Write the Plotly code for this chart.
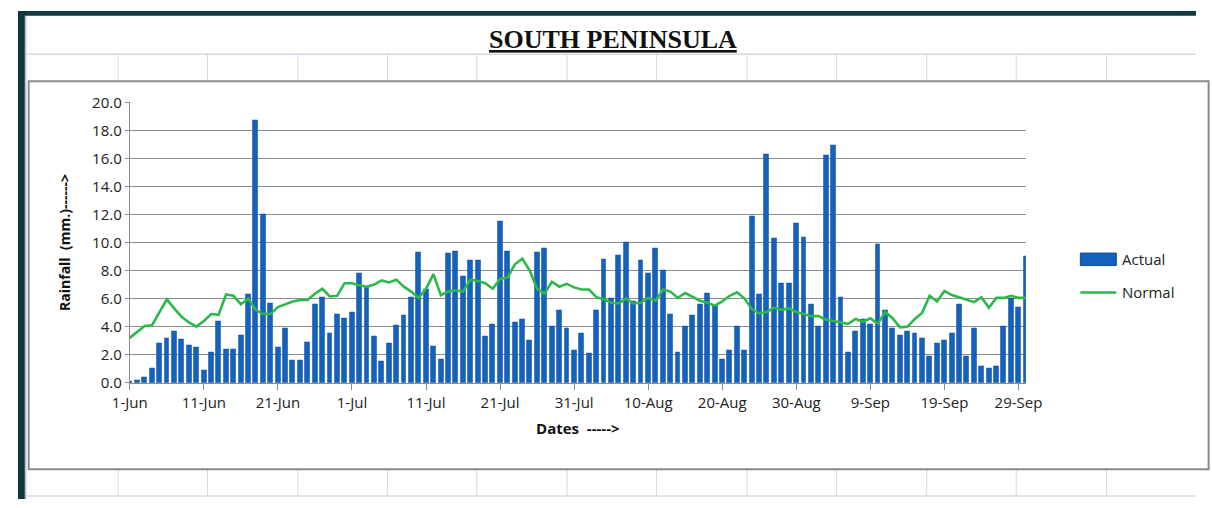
import pandas as pd
import plotly.graph_objects as go

# ---------------- data ----------------
dates = pd.date_range("2013-06-01", "2013-09-30", freq="D")
date_labels = [f"{d.day}-{d.strftime('%b')}" for d in dates]

actual = [
    0.1, 0.2, 0.4, 1.0, 2.8, 3.2, 3.7, 3.1, 2.7, 2.5,
    0.9, 2.2, 4.4, 2.4, 2.4, 3.4, 6.3, 18.7, 12.0, 5.7,
    2.5, 3.9, 1.6, 1.6, 2.9, 5.6, 6.1, 3.5, 4.9, 4.6,
    5.0, 7.8, 6.9, 3.3, 1.5, 2.8, 4.1, 4.8, 6.1, 9.3,
    6.7, 2.6, 1.7, 9.2, 9.4, 7.6, 8.7, 8.7, 3.3, 4.2,
    11.5, 9.4, 4.3, 4.5, 3.0, 9.3, 9.6, 4.0, 5.2, 3.9,
    2.3, 3.5, 2.1, 5.2, 8.8, 6.0, 9.1, 10.0, 5.8, 8.7,
    7.8, 9.6, 8.0, 4.9, 2.2, 4.0, 4.8, 5.6, 6.4, 5.5,
    1.7, 2.3, 4.0, 2.3, 11.9, 6.3, 16.3, 10.3, 7.1, 7.1,
    11.4, 10.4, 5.6, 4.0, 16.2, 16.9, 6.1, 2.2, 3.7, 4.5,
    4.2, 9.9, 5.2, 3.9, 3.4, 3.7, 3.5, 3.2, 1.9, 2.8,
    3.0, 3.5, 5.6, 1.9, 3.9, 1.2, 1.0, 1.2, 4.0, 6.0, 5.4, 9.0,
]

normal = [
    3.2, 3.6, 4.05, 4.1, 5.0, 5.95, 5.3, 4.7, 4.3, 4.0,
    4.4, 4.9, 4.85, 6.3, 6.2, 5.6, 6.0, 5.2, 4.9, 4.9,
    5.4, 5.6, 5.8, 5.9, 5.9, 6.35, 6.7, 6.15, 6.2, 7.1,
    7.1, 6.95, 6.85, 7.0, 7.3, 7.15, 7.35, 6.85, 6.5, 6.05,
    6.7, 7.75, 6.25, 6.5, 6.6, 6.5, 7.35, 7.25, 7.1, 6.7,
    7.4, 7.5, 8.45, 8.85, 8.0, 6.7, 6.35, 7.2, 6.85, 7.05,
    6.8, 6.65, 6.65, 6.1, 5.95, 5.7, 5.65, 6.0, 5.65, 5.7,
    6.05, 5.85, 6.65, 6.5, 6.05, 6.4, 6.15, 5.85, 5.7, 5.5,
    5.8, 6.2, 6.45, 6.0, 5.25, 4.95, 5.05, 5.35, 5.2, 5.3,
    5.05, 4.9, 4.75, 4.75, 4.5, 4.4, 4.3, 4.2, 4.55, 4.35,
    4.6, 4.2, 5.05, 4.6, 3.95, 4.0, 4.55, 5.0, 6.2, 5.8,
    6.55, 6.25, 6.1, 5.95, 5.75, 6.1, 5.35, 6.05, 6.05, 6.2, 6.05, 6.05,
]

tick_step = 10
title_text = "SOUTH PENINSULA"
y_title = "Rainfall  (mm.)------>"
x_title = "Dates  ----->"
series_names = ["Actual", "Normal"]

# ---------------- layout helpers ----------------
W, H = 1212, 508
def px(x):
    return x / W
def py(y):
    return 1 - y / H

day_idx = list(range(len(dates)))
tickvals = day_idx[::tick_step]
ticktext = date_labels[::tick_step]

BAR_COLOR = "#1561BE"
LINE_COLOR = "#2DB84A"
GRID = "#8C8C8C"
FONT = "Open Sans, Noto Sans, sans-serif"

fig = go.Figure()
fig.add_trace(go.Bar(
    x=day_idx, y=actual, name=series_names[0], width=0.66,
    marker=dict(color=BAR_COLOR, line=dict(color="#0D4C9A", width=0.5)),
    customdata=date_labels, hovertemplate="%{customdata}: %{y}<extra>Actual</extra>",
    showlegend=False,
))
fig.add_trace(go.Scatter(
    x=day_idx, y=normal, name=series_names[1], mode="lines",
    line=dict(color=LINE_COLOR, width=2.6),
    customdata=date_labels, hovertemplate="%{customdata}: %{y}<extra>Normal</extra>",
    showlegend=False,
))

shapes = []
# sheet cell grid (background)
CELL = "#D4DAE4"
col_x = [103, 195, 288, 380, 472, 565, 657, 750, 842, 935, 1027, 1120]
shapes.append(dict(type="line", xref="paper", yref="paper", x0=px(8), x1=1, y0=py(45), y1=py(45),
                   line=dict(color=CELL, width=1.5), layer="below"))
shapes.append(dict(type="line", xref="paper", yref="paper", x0=px(8), x1=1, y0=py(505), y1=py(505),
                   line=dict(color=CELL, width=1.5), layer="below"))
for cx in col_x:
    shapes.append(dict(type="line", xref="paper", yref="paper", x0=px(cx), x1=px(cx), y0=py(45), y1=py(72),
                       line=dict(color=CELL, width=1), layer="below"))
    shapes.append(dict(type="line", xref="paper", yref="paper", x0=px(cx), x1=px(cx), y0=py(477), y1=py(505),
                       line=dict(color=CELL, width=1), layer="below"))
# dark window border
shapes.append(dict(type="rect", xref="paper", yref="paper", x0=0, x1=1, y0=py(5), y1=1,
                   fillcolor="#123642", line=dict(width=0), layer="below"))
shapes.append(dict(type="rect", xref="paper", yref="paper", x0=0, x1=px(7), y0=0, y1=1,
                   fillcolor="#123642", line=dict(width=0), layer="below"))
shapes.append(dict(type="line", xref="paper", yref="paper", x0=px(8), x1=px(8), y0=0, y1=py(5),
                   line=dict(color="#9AA5AD", width=1), layer="below"))
# chart area border
shapes.append(dict(type="rect", xref="paper", yref="paper", x0=px(11), x1=px(1225), y0=py(477), y1=py(73),
                   fillcolor="white", line=dict(color="#8A8A8A", width=2), layer="below"))
# manual legend
shapes.append(dict(type="rect", xref="paper", yref="paper", x0=px(1093), x1=px(1130), y0=py(265), y1=py(252),
                   fillcolor=BAR_COLOR, line=dict(color="#0D4C9A", width=1)))
shapes.append(dict(type="line", xref="paper", yref="paper", x0=px(1093), x1=px(1130), y0=py(293), y1=py(293),
                   line=dict(color=LINE_COLOR, width=2.6)))

annotations = [
    dict(text=f"<b><u>{title_text}</u></b>", xref="paper", yref="paper", x=px(612), y=py(30),
         xanchor="center", yanchor="middle", showarrow=False,
         font=dict(family="Liberation Serif, serif", size=26, color="#111")),
    dict(text=series_names[0], xref="paper", yref="paper", x=px(1134), y=py(258),
         xanchor="left", yanchor="middle", showarrow=False, font=dict(family=FONT, size=15, color="#222")),
    dict(text=series_names[1], xref="paper", yref="paper", x=px(1134), y=py(293),
         xanchor="left", yanchor="middle", showarrow=False, font=dict(family=FONT, size=15, color="#222")),
]

fig.update_layout(
    width=W, height=H,
    margin=dict(l=0, r=0, t=0, b=0),
    paper_bgcolor="white", plot_bgcolor="white",
    shapes=shapes, annotations=annotations,
    bargap=0, showlegend=False,
    font=dict(family=FONT, size=15, color="#222"),
    xaxis=dict(
        domain=[px(115), px(1037)], range=[0, len(dates) - 1],
        tickmode="array", tickvals=tickvals, ticktext=ticktext,
        ticks="outside", ticklen=6, tickcolor=GRID, tickwidth=1,
        showline=True, linecolor=GRID, linewidth=1, showgrid=False, zeroline=False,
        tickfont=dict(family=FONT, size=15, color="#222"),
        title=dict(text=f"<b>{x_title}</b>", font=dict(family=FONT, size=15, color="#111"), standoff=12),
        fixedrange=True,
    ),
    yaxis=dict(
        domain=[py(387), py(95)], range=[0, 20], dtick=2, tickformat=".1f",
        ticks="outside", ticklen=4, tickcolor=GRID,
        showline=True, linecolor=GRID, linewidth=1,
        showgrid=True, gridcolor=GRID, gridwidth=1, zeroline=False,
        tickfont=dict(family=FONT, size=15, color="#222"),
        title=dict(text=f"<b>{y_title}</b>", font=dict(family=FONT, size=14, color="#111"), standoff=18),
        fixedrange=True,
    ),
)

fig.write_html(
    "out.html",
    config={"displayModeBar": False},
    post_script="document.documentElement.style.margin='0';document.documentElement.style.padding='0';"
                "document.body.style.margin='0';document.body.style.padding='0';"
                "document.body.style.overflow='hidden';",
)
